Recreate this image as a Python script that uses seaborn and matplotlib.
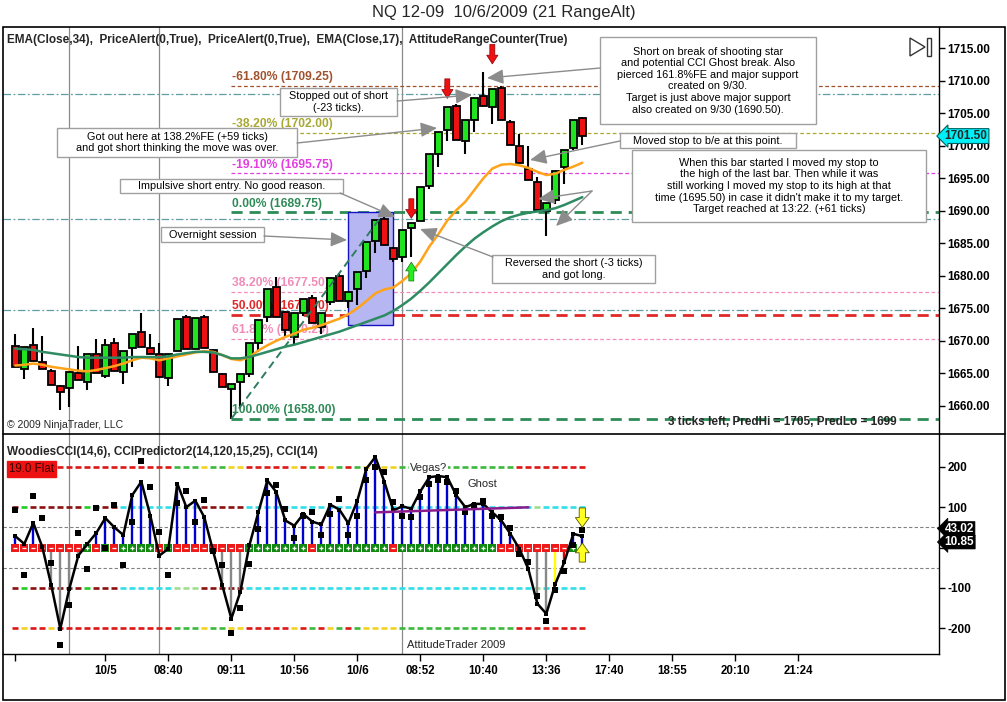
import numpy as np
import matplotlib
matplotlib.use("Agg")
import matplotlib.pyplot as plt
import matplotlib.transforms as mtransforms
from matplotlib.patches import Rectangle, Polygon
from matplotlib.lines import Line2D
import seaborn as sns

sns.set_theme(style="white")
plt.rcParams['font.family'] = ['Liberation Sans', 'DejaVu Sans']

# ---------------- data ----------------
opens = [1669.2, 1665.7, 1669.3, 1666.7, 1665.4, 1663.0, 1662.7, 1665.1, 1663.6, 1668.0,
         1664.6, 1669.7, 1665.2, 1668.9, 1671.4, 1668.9, 1668.0, 1664.2, 1668.5, 1673.7,
         1668.7, 1673.7, 1668.6, 1664.9, 1662.6, 1663.6, 1664.9, 1669.6, 1673.7, 1678.3,
         1674.4, 1670.6, 1674.2, 1676.6, 1672.1, 1676.0, 1679.9, 1676.1, 1677.9, 1680.8,
         1685.4, 1688.8, 1684.3, 1682.9, 1687.4, 1688.4, 1693.8, 1698.8, 1702.4, 1706.1,
         1700.8, 1704.0, 1707.6, 1706.0, 1708.95, 1703.7, 1700.0, 1696.5, 1694.4, 1690.0,
         1691.6, 1696.7, 1699.7, 1704.3]
highs = [1671.1, 1669.1, 1672.0, 1670.8, 1665.6, 1663.2, 1665.2, 1669.2, 1667.9, 1670.2,
         1670.3, 1670.5, 1668.5, 1671.1, 1674.3, 1671.1, 1669.6, 1667.9, 1673.4, 1673.9,
         1673.5, 1673.9, 1668.8, 1665.0, 1663.3, 1664.9, 1669.6, 1673.2, 1678.0, 1679.8,
         1674.6, 1674.2, 1676.5, 1677.0, 1674.2, 1679.6, 1680.5, 1677.5, 1680.6, 1685.2,
         1688.6, 1689.75, 1684.5, 1687.1, 1688.2, 1693.7, 1698.7, 1702.1, 1706.0, 1706.5,
         1703.9, 1707.4, 1711.4, 1708.8, 1709.2, 1704.0, 1701.8, 1699.9, 1695.2, 1691.2,
         1696.2, 1699.4, 1704.0, 1704.5]
lows = [1666.0, 1664.1, 1666.9, 1665.6, 1663.2, 1659.3, 1659.8, 1663.9, 1662.5, 1665.0,
        1664.3, 1665.3, 1663.4, 1666.0, 1669.05, 1668.0, 1664.2, 1663.0, 1668.5, 1668.7,
        1668.7, 1668.9, 1665.2, 1662.9, 1658.0, 1659.6, 1664.5, 1668.3, 1672.9, 1673.7,
        1670.6, 1669.3, 1673.8, 1672.7, 1671.0, 1675.5, 1676.1, 1675.0, 1675.5, 1679.6,
        1683.5, 1684.7, 1682.2, 1682.1, 1682.9, 1688.4, 1693.4, 1696.8, 1700.8, 1700.9,
        1698.8, 1702.1, 1706.1, 1703.3, 1703.9, 1700.2, 1697.3, 1694.7, 1690.1, 1686.2,
        1691.0, 1694.2, 1699.3, 1700.1]
closes = [1666.0, 1669.1, 1666.9, 1665.6, 1663.2, 1662.1, 1665.2, 1663.9, 1667.9, 1665.0,
          1669.3, 1665.3, 1668.5, 1671.1, 1669.05, 1668.0, 1664.4, 1667.9, 1673.4, 1668.7,
          1673.5, 1668.9, 1665.2, 1662.9, 1663.3, 1664.9, 1669.6, 1673.2, 1678.0, 1673.7,
          1671.6, 1674.2, 1676.5, 1672.7, 1674.2, 1679.6, 1676.1, 1677.5, 1680.6, 1685.2,
          1688.6, 1684.7, 1682.6, 1687.1, 1688.2, 1693.7, 1698.7, 1702.1, 1706.0, 1700.9,
          1703.9, 1707.4, 1706.1, 1708.8, 1703.9, 1700.2, 1697.3, 1694.7, 1690.1, 1691.2,
          1696.2, 1699.4, 1704.0, 1701.5]
ema17 = [1666.2, 1666.3, 1666.5, 1666.3, 1666.0, 1665.8, 1665.6, 1665.4, 1665.3, 1665.5,
         1665.8, 1666.1, 1666.5, 1667.0, 1667.4, 1667.3, 1667.0, 1667.3, 1667.6, 1667.9,
         1668.2, 1668.4, 1668.3, 1667.8, 1667.2, 1667.0, 1667.5, 1668.5, 1669.3, 1670.0,
         1670.6, 1671.1, 1671.7, 1672.0, 1672.4, 1672.9, 1673.4, 1674.1, 1675.0, 1676.1,
         1677.3, 1677.9, 1678.2, 1679.2, 1680.4, 1682.2, 1684.5, 1686.4, 1688.5, 1690.1,
         1691.4, 1693.2, 1695.0, 1696.5, 1697.1, 1697.2, 1697.0, 1696.6, 1696.0, 1695.5,
         1695.7, 1696.3, 1696.8, 1697.4]
ema34 = [1668.8, 1668.7, 1668.6, 1668.3, 1668.1, 1667.9, 1667.7, 1667.5, 1667.4, 1667.4,
         1667.4, 1667.4, 1667.4, 1667.5, 1667.5, 1667.5, 1667.5, 1667.6, 1667.9, 1668.1,
         1668.3, 1668.3, 1668.2, 1667.8, 1667.3, 1667.3, 1667.5, 1667.9, 1668.3, 1668.7,
         1669.1, 1669.4, 1669.8, 1670.2, 1670.6, 1671.0, 1671.4, 1671.9, 1672.4, 1672.9,
         1673.4, 1673.9, 1674.6, 1675.5, 1676.5, 1677.7, 1679.0, 1680.4, 1681.8, 1683.2,
         1684.5, 1685.7, 1686.7, 1687.6, 1688.4, 1689.0, 1689.4, 1689.7, 1689.9, 1690.1,
         1690.4, 1690.9, 1691.5, 1692.1]
cci14 = [28, 9, 61, 1, -94, -201, -102, -20, 9, 36, 73, 50, 31, 130, 163, 79, -20, -3, 158, 100,
         116, 75, -11, -94, -176, -110, 5, 87, 166, 137, 67, 54, 83, 64, 57, 106, 94, 60, 116, 195,
         224, 163, 92, 102, 96, 139, 174, 177, 174, 129, 100, 108, 108, 87, 67, 34, -3, -53, -139, -164,
         -90, -36, 34, 28]
turbo6 = [92, -68, 127, 73, -38, -241, -143, 36, -54, 97, 0, 106, -43, 63, 215, 150, 39, -69, 109, 139,
          62, 117, -8, -44, -212, -150, -41, 45, 135, 155, 95, 23, 78, 87, 30, 83, 119, 30, 79, 166,
          199, 186, 112, 78, 75, 125, 158, 167, 162, 139, 87, 104, 116, 78, 75, 48, -16, -35, -120, -183,
          -104, -57, 7, 43.02]
zero_marks = list("RRRRRRRR" "G" "R" "G" "R" "GGGG" "R" "G" "RRRRRRRR" "GGGGGGG" "R"
                  "GGGGGGGG" "R" "GGGGGGGGGGG" "RRRRRRRR" "G" "-")
band100 = list("r" "g" "rrrrrr" "g" "rrr" "cccccc" "lll" "rrrrr" + "c" * 32 + "l" "ccccc")
band200 = list("r" "y" "rr" "y" + "r" * 13 + "ggg" "y" "gg" "yy" "rrrrr" "y" "r" "g" "r" "y" "g" "r" "g"
               "yyyy" + "g" * 13 + "r" * 8)
hist_special = {60: 'y', 61: 'r'}

xtick_bars = [0, 10, 17, 24, 31, 38, 45, 52, 59, 66, 73, 80, 87]
xtick_labels = ['', '10/5', '08:40', '09:11', '10:56', '10/6', '08:52', '10:40', '13:36',
                '17:40', '18:55', '20:10', '21:24']
session_bars = [6, 16, 43]
fib_start_bar = 24
fib_end_bar = 41
fib_levels = [1709.25, 1702.00, 1695.75, 1689.75, 1677.50, 1674.00, 1670.25, 1658.00]
fib_pcts = ['-61.80%', '-38.20%', '-19.10%', '0.00%', '38.20%', '50.00%', '61.80%', '100.00%']
alert_levels = [1708.0, 1688.75, 1674.75]
overnight = dict(start=37, end=42, low=1672.4, high=1689.8)
short_bars = [44, 48, 53]
short_tips = [1688.85, 1707.3, 1712.6]
long_bars = [44]
long_tips = [1682.1]
ghost_bars = [40, 57]
ghost_vals = [87, 99.5]
current_price = 1701.50
cci_last_labels = [('43.02', 47), ('10.85', 13.6)]

# note texts with their box edges in image pixels (left, top, right, bottom)
notes = [
    ("Short on break of shooting star\nand potential CCI Ghost break. Also\npierced 161.8%FE and major support\n"
     "created on 9/30.\nTarget is just above major support\nalso created on 9/30 (1690.50).", (600, 37, 816, 124)),
    ("Moved stop to b/e at this point.", (620, 133, 796, 148)),
    ("When this bar started I moved my stop to\nthe high of the last bar. Then while it was\n"
     "still working I moved my stop to its high at that\ntime (1695.50) in case it didn't make it to my target.\n"
     "Target reached at 13:22. (+61 ticks)", (632, 150, 926, 222)),
    ("Stopped out of short\n(-23 ticks).", (280, 88, 397, 116)),
    ("Got out here at 138.2%FE (+59 ticks)\nand got short thinking the move was over.", (57, 128, 297, 157)),
    ("Impulsive short entry. No good reason.", (120, 179, 343, 193)),
    ("Overnight session", (161, 227, 264, 242)),
    ("Reversed the short (-3 ticks)\nand got long.", (492, 255, 655, 283)),
]
note_arrows = [
    ((64.97, 1711.97), (52.41, 1710.43)),
    ((67.19, 1700.74), (57.19, 1697.82)),
    ((64.08, 1693.05), (58.08, 1691.82)),
    ((64.08, 1693.05), (60.08, 1687.66)),
    ((42.41, 1706.89), (50.74, 1707.82)),
    ((31.30, 1700.43), (46.86, 1702.74)),
    ((36.08, 1692.74), (42.19, 1689.05)),
    ((27.63, 1686.12), (36.86, 1685.51)),
    ((53.08, 1682.89), (44.97, 1687.20)),
]

# ---------------- figure ----------------
W, H = 1007, 702
fig = plt.figure(figsize=(W / 100, H / 100), dpi=100, facecolor='white')


def fx(px):
    return px / W


def fy(py):
    return 1 - py / H


def bar_of(px):
    return (px - 15.3) / 9.0


def price_of(py):
    return 1715 - (py - 48.3) / 6.5


ax1 = fig.add_axes([fx(3), fy(434), fx(939) - fx(3), fy(27) - fy(434)])
ax2 = fig.add_axes([fx(3), fy(654), fx(939) - fx(3), fy(434) - fy(654)])
XL = (-1.37, 102.63)
for ax in (ax1, ax2):
    ax.set_xlim(*XL)
    ax.set_facecolor('white')
    for s in ('left', 'top'):
        ax.spines[s].set_visible(False)
    ax.spines['right'].set_color('black')
    ax.spines['right'].set_linewidth(1.0)
ax1.spines['bottom'].set_visible(False)
ax2.spines['bottom'].set_color('black')
ax2.spines['bottom'].set_linewidth(1.0)
ax1.set_ylim(1655.66, 1718.28)
ax2.set_ylim(-263.6, 281)

bars = np.arange(len(opens))
o, h, l, c = (np.array(a) for a in (opens, highs, lows, closes))

# session separators
for b in session_bars:
    ax1.axvline(b, color='#8a8a8a', lw=0.9, zorder=1)
    ax2.axvline(b, color='#8a8a8a', lw=0.9, zorder=1)

# price alert lines
for lv in alert_levels:
    ax1.axhline(lv, color='#5f9ea0', lw=0.9, dashes=(6, 2, 1.5, 2), zorder=1)

# fibonacci levels
fib_colors = ['#a0522d', '#a8a832', '#e23ee2', '#2e8b57', '#f08cb8', '#e02828', '#f08cb8', '#2e8b57']
fib_thick = [False, False, False, True, False, True, False, True]
for lv, pct, col, thick in zip(fib_levels, fib_pcts, fib_colors, fib_thick):
    ax1.plot([fib_start_bar, XL[1]], [lv, lv], color=col, lw=2.0 if thick else 0.9,
             dashes=(4, 2.5) if thick else (3, 2), zorder=1.5)
    ax1.text(fib_start_bar + 0.1, lv + 0.45, f"{pct} ({lv:.2f})", color=col, fontsize=8.7,
             fontweight='bold', ha='left', va='bottom', zorder=1.6)
ax1.plot([fib_start_bar, fib_end_bar], [lows[fib_start_bar], highs[fib_end_bar]],
         color='#2e7d5e', lw=1.4, dashes=(4, 2.5), zorder=5)

# overnight session box
ax1.add_patch(Rectangle((overnight['start'], overnight['low']), overnight['end'] - overnight['start'],
                        overnight['high'] - overnight['low'], fc='#b6b6f2', ec='#1414c0', lw=1.0, zorder=2))

# candles
up = c >= o
ax1.vlines(bars, l, h, color='black', lw=1.5, zorder=3)
ax1.bar(bars, np.abs(c - o), bottom=np.minimum(o, c), width=0.74,
        color=np.where(up, '#1fe41f', '#ee1111'), edgecolor='black', linewidth=1.3, zorder=4)

# EMAs
sns.lineplot(x=bars, y=ema17, ax=ax1, color='#ffa31a', lw=1.8, zorder=5)
sns.lineplot(x=bars, y=ema34, ax=ax1, color='#2e8b62', lw=1.8, zorder=5)

# entry arrows
for b, tip in zip(short_bars, short_tips):
    ax1.annotate('', xy=(b, tip), xytext=(b, tip + 3.0),
                 arrowprops=dict(arrowstyle='simple,head_length=0.7,head_width=0.9,tail_width=0.4',
                                 fc='#ee1111', ec='#880000', lw=0.5, mutation_scale=9,
                                 shrinkA=0, shrinkB=0), zorder=7)
for b, tip in zip(long_bars, long_tips):
    ax1.annotate('', xy=(b, tip), xytext=(b, tip - 2.9),
                 arrowprops=dict(arrowstyle='simple,head_length=0.7,head_width=0.9,tail_width=0.4',
                                 fc='#22ee22', ec='#117711', lw=0.5, mutation_scale=9,
                                 shrinkA=0, shrinkB=0), zorder=7)

# notes
for txt, (lp, tp, rp, bp) in notes:
    x0, x1 = bar_of(lp), bar_of(rp)
    y0, y1 = price_of(bp), price_of(tp)
    ax1.add_patch(Rectangle((x0, y0), x1 - x0, y1 - y0, fc='white', ec='#a0a0a0', lw=1.0, zorder=8))
    ax1.text((x0 + x1) / 2, (y0 + y1) / 2, txt, fontsize=7.8, ha='center', va='center',
             linespacing=1.2, color='black', zorder=8.5)
for start, tip in note_arrows:
    ax1.annotate('', xy=tip, xytext=start,
                 arrowprops=dict(arrowstyle='-|>,head_length=1.0,head_width=0.45', color='#8c8c8c',
                                 lw=1.0, shrinkA=0, shrinkB=0, mutation_scale=10), zorder=8)

# right price axis
ax1.set_xticks([])
ax1.yaxis.tick_right()
yt = np.arange(1660, 1716, 5)
ax1.set_yticks(yt)
ax1.set_yticklabels([f"{v:.2f}" for v in yt], fontweight='bold', fontsize=8.5)
ax1.tick_params(axis='y', right=True, left=False, direction='out', length=4, width=1, pad=2,
                colors='black')
ax1.set_ylabel('')
blend1 = mtransforms.blended_transform_factory(ax1.transAxes, ax1.transData)
ax1.text(1.006, current_price, f"{current_price:.2f}", transform=blend1, fontsize=8.5, fontweight='bold',
         ha='left', va='center', clip_on=False, zorder=10,
         bbox=dict(boxstyle='larrow,pad=0.12', fc='#00f0f8', ec='#006060', lw=0.8))

# ---------------- CCI panel ----------------
c100 = {'r': '#8b1010', 'g': '#22cc22', 'c': '#30dde8', 'l': '#a0dd90'}
c200 = {'r': '#dd1616', 'g': '#3cb83c', 'y': '#f2d21e'}
for lv, codes, cmap in ((200, band200, c200), (-200, band200, c200), (100, band100, c100), (-100, band100, c100)):
    ax2.hlines([lv] * len(bars), bars - 0.33, bars + 0.33, colors=[cmap[k] for k in codes], lw=1.9, zorder=2)
for lv in (50, -50):
    ax2.axhline(lv, color='#808080', lw=0.8, dashes=(3, 2), zorder=1)

hist_cols = []
for i, v in enumerate(cci14):
    code = hist_special.get(i, 'b' if v >= 0 else 'k')
    hist_cols.append({'b': '#0000d0', 'k': '#888888', 'y': '#ffff00', 'r': '#dd0000'}[code])
ax2.vlines(bars, 0, cci14, colors=hist_cols, lw=1.7, zorder=3)

mark_idx_r = [i for i, m in enumerate(zero_marks) if m == 'R']
mark_idx_g = [i for i, m in enumerate(zero_marks) if m == 'G']
ax2.scatter(mark_idx_r, [0] * len(mark_idx_r), marker='s', s=28, color='#ee1a1a', linewidths=0, zorder=4)
ax2.scatter(mark_idx_g, [0] * len(mark_idx_g), marker='s', s=28, color='#128a12', linewidths=0, zorder=4)
ax2.scatter(mark_idx_r, [0] * len(mark_idx_r), marker='_', s=9, color='white', linewidths=0.9, zorder=4.5)
ax2.scatter(mark_idx_g, [0] * len(mark_idx_g), marker='+', s=9, color='white', linewidths=0.9, zorder=4.5)

sns.lineplot(x=bars, y=cci14, ax=ax2, color='black', lw=1.8, marker='s', markersize=3.2,
             markeredgewidth=0, zorder=5)
ax2.scatter(bars, turbo6, marker='s', s=14, color='black', linewidths=0, zorder=6)
ax2.plot(ghost_bars, ghost_vals, color='#8b1a8b', lw=1.8, zorder=6)

ax2.annotate('', xy=(63, 50), xytext=(63, 98),
             arrowprops=dict(arrowstyle='simple,head_length=0.7,head_width=1.0,tail_width=0.45',
                             fc='#ffff22', ec='#555500', lw=0.6, mutation_scale=10, shrinkA=0, shrinkB=0),
             zorder=7)
ax2.annotate('', xy=(63, 11), xytext=(63, -36),
             arrowprops=dict(arrowstyle='simple,head_length=0.7,head_width=1.0,tail_width=0.45',
                             fc='#ffff22', ec='#555500', lw=0.6, mutation_scale=10, shrinkA=0, shrinkB=0),
             zorder=7)

ax2.text(45.9, 197, "Vegas?", fontsize=8, ha='center', va='center', zorder=6,
         bbox=dict(boxstyle='square,pad=0.1', fc='white', ec='none'))
ax2.text(51.86, 157, "Ghost", fontsize=8, ha='center', va='center', zorder=6)
ax2.text(48.97, -241, "AttitudeTrader 2009", fontsize=8, ha='center', va='center', zorder=6)

ax2.set_xticks(xtick_bars)
ax2.set_xticklabels(xtick_labels, fontweight='bold', fontsize=8.3)
ax2.tick_params(axis='x', bottom=True, direction='out', length=5, width=1, pad=3, colors='black')
ax2.yaxis.tick_right()
ax2.set_yticks([200, 100, 0, -100, -200])
# the "0" label sits under the live value tags, as in the original
ax2.set_yticklabels(['200', '100', '', '-100', '-200'], fontweight='bold', fontsize=8.5)
ax2.tick_params(axis='y', right=True, left=False, direction='out', length=4, width=1, pad=2, colors='black')
ax2.set_ylabel('')
ax2.set_xlabel('')
blend2 = mtransforms.blended_transform_factory(ax2.transAxes, ax2.transData)
for txt, v in cci_last_labels:
    ax2.text(1.006, v, txt, transform=blend2, fontsize=8.5, fontweight='bold', color='white',
             ha='left', va='center', clip_on=False, zorder=10,
             bbox=dict(boxstyle='larrow,pad=0.08', fc='black', ec='black', lw=0.5))

# ---------------- frame & header texts ----------------
fig.add_artist(Rectangle((fx(3), fy(700)), fx(1005) - fx(3), fy(27) - fy(700), transform=fig.transFigure,
                         fill=False, ec='black', lw=1.2))
fig.add_artist(Line2D([fx(3), fx(1005)], [fy(434), fy(434)], transform=fig.transFigure, color='black', lw=1.2))

fig.text(0.5, fy(13), "NQ 12-09  10/6/2009 (21 RangeAlt)", ha='center', va='center', fontsize=12)
fig.text(fx(7), fy(40), "EMA(Close,34),  PriceAlert(0,True),  PriceAlert(0,True),  EMA(Close,17),  "
         "AttitudeRangeCounter(True)", ha='left', va='center', fontsize=8.5, fontweight='bold')
fig.text(fx(7), fy(425), "\u00a9 2009 NinjaTrader, LLC", ha='left', va='center', fontsize=7.6)
fig.text(fx(897), fy(422), "3 ticks left, PredHi = 1705, PredLo = 1699", ha='right', va='center',
         fontsize=8.5, fontweight='bold')
fig.text(fx(7), fy(452), "WoodiesCCI(14,6), CCIPredictor2(14,120,15,25), CCI(14)", ha='left', va='center',
         fontsize=8.5, fontweight='bold')
fig.text(fx(9), fy(469), "19.0 Flat", ha='left', va='center', fontsize=8.3, color='#3a0000',
         bbox=dict(boxstyle='square,pad=0.18', fc='#ee1111', ec='#ee1111'))

fig.add_artist(Polygon([(fx(910), fy(38)), (fx(925), fy(47)), (fx(910), fy(56))], closed=True,
                       transform=fig.transFigure, fill=False, ec='#333333', lw=1.0))
fig.add_artist(Rectangle((fx(927), fy(56)), fx(931) - fx(927), fy(38) - fy(56), transform=fig.transFigure,
                         fill=False, ec='#333333', lw=1.0))

fig.savefig('out.png', dpi=100, facecolor='white')
